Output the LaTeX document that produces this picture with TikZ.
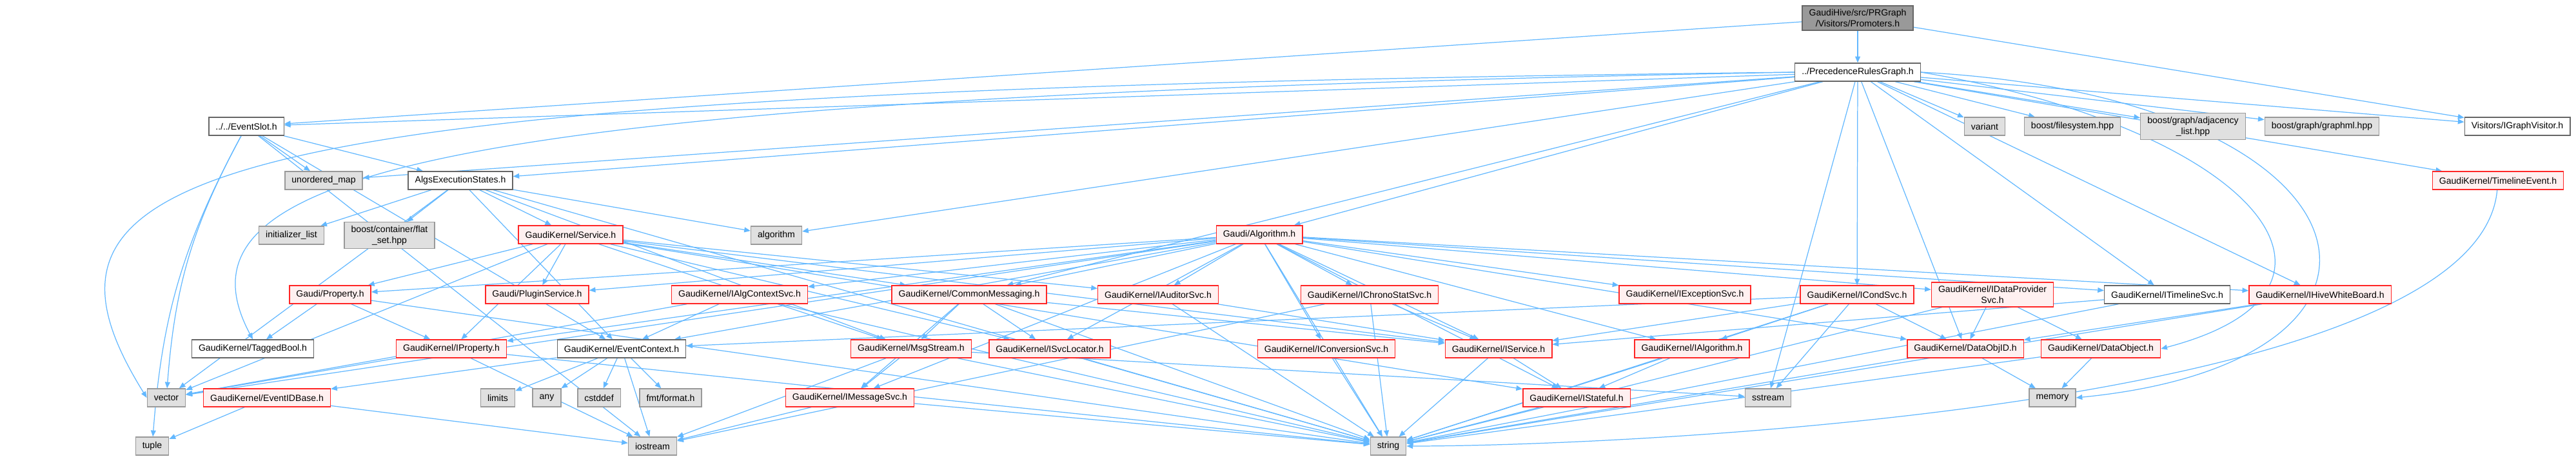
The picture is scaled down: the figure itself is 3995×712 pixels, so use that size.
\documentclass[tikz,border=0pt]{standalone}
\usepackage{fontspec}
\setmainfont{Liberation Sans}
\usetikzlibrary{arrows.meta,backgrounds}
\definecolor{edgeblue}{HTML}{63B8FF}
\definecolor{redfill}{HTML}{FFF0F0}
\definecolor{sysfill}{HTML}{E0E0E0}
\definecolor{grey40}{HTML}{666666}
\definecolor{grey60}{HTML}{999999}
\tikzset{
  hdr/.style={draw, rectangle, line width=0.8pt, inner xsep=6pt, inner ysep=3pt,
    minimum height=0.56cm, align=center, font=\fontsize{8}{9.6}\selectfont},
  hdrcur/.style={hdr, fill=grey60, draw=grey40},
  hdrdoc/.style={hdr, fill=white, draw=grey40},
  hdrred/.style={hdr, fill=redfill, draw=red!85},
  hdrsys/.style={hdr, fill=sysfill, draw=grey60},
  dep/.style={draw=edgeblue, line width=0.7pt, -{Triangle[length=5.5pt,width=4.5pt]}},
}
\begin{document}
\begin{tikzpicture}[x=0.02cm,y=-0.02cm]
\useasboundingbox (0,0) rectangle (3995,712);

\node[hdrcur] (prom) at (2881,28) {GaudiHive/src/PRGraph\\/Visitors/Promoters.h};
\node[hdrdoc] (prg) at (2881,112) {../PrecedenceRulesGraph.h};

\node[hdrdoc] (evslot) at (382,196) {../../EventSlot.h};
\node[hdrsys] (variant) at (3078,196) {variant};
\node[hdrsys] (bfs) at (3214,196) {boost/filesystem.hpp};
\node[hdrsys] (badj) at (3401,196) {boost/graph/adjacency\\\_list.hpp};
\node[hdrsys] (bgml) at (3601,196) {boost/graph/graphml.hpp};
\node[hdrdoc] (igv) at (3904,196) {Visitors/IGraphVisitor.h};

\node[hdrsys] (umap) at (502,280) {unordered\_map};
\node[hdrdoc] (aes) at (714,280) {AlgsExecutionStates.h};
\node[hdrred] (tlev) at (3874,280) {GaudiKernel/TimelineEvent.h};

\node[hdrsys] (initl) at (452,365) {initializer\_list};
\node[hdrsys] (flatset) at (604,365) {boost/container/flat\\\_set.hpp};
\node[hdrred] (service) at (885,364) {GaudiKernel/Service.h};
\node[hdrsys] (algo) at (1204,365) {algorithm};
\node[hdrred] (galg) at (1953,364) {Gaudi/Algorithm.h};

\node[hdrred] (prop) at (512,457) {Gaudi/Property.h};
\node[hdrred] (plugin) at (833,457) {Gaudi/PluginService.h};
\node[hdrred] (iacs) at (1147,457) {GaudiKernel/IAlgContextSvc.h};
\node[hdrred] (cmsg) at (1503,457) {GaudiKernel/CommonMessaging.h};
\node[hdrred] (iaud) at (1796,457) {GaudiKernel/IAuditorSvc.h};
\node[hdrred] (ichrono) at (2124,457) {GaudiKernel/IChronoStatSvc.h};
\node[hdrred] (iexc) at (2613,457) {GaudiKernel/IExceptionSvc.h};
\node[hdrred] (icond) at (2880,457) {GaudiKernel/ICondSvc.h};
\node[hdrred] (idps) at (3090,457) {GaudiKernel/IDataProvider\\Svc.h};
\node[hdrdoc] (itls) at (3361,457) {GaudiKernel/ITimelineSvc.h};
\node[hdrred] (ihwb) at (3598,457) {GaudiKernel/IHiveWhiteBoard.h};

\node[hdrdoc] (tagged) at (392,541) {GaudiKernel/TaggedBool.h};
\node[hdrred] (iprop) at (700,541) {GaudiKernel/IProperty.h};
\node[hdrdoc] (evctx) at (964,541) {GaudiKernel/EventContext.h};
\node[hdrred] (msgs) at (1413,541) {GaudiKernel/MsgStream.h};
\node[hdrred] (isvcl) at (1628,541) {GaudiKernel/ISvcLocator.h};
\node[hdrred] (iconv) at (2057,541) {GaudiKernel/IConversionSvc.h};
\node[hdrred] (iserv) at (2324,541) {GaudiKernel/IService.h};
\node[hdrred] (ialg) at (2624,541) {GaudiKernel/IAlgorithm.h};
\node[hdrred] (doid) at (3048,541) {GaudiKernel/DataObjID.h};
\node[hdrred] (dobj) at (3258,541) {GaudiKernel/DataObject.h};

\node[hdrsys] (vector) at (258,617) {vector};
\node[hdrred] (evid) at (414,617) {GaudiKernel/EventIDBase.h};
\node[hdrsys] (limits) at (772,617) {limits};
\node[hdrsys] (any) at (848,617) {any};
\node[hdrsys] (cstddef) at (929,617) {cstddef};
\node[hdrsys] (fmt) at (1040,617) {fmt/format.h};
\node[hdrred] (imsg) at (1318,617) {GaudiKernel/IMessageSvc.h};
\node[hdrred] (istate) at (2445,617) {GaudiKernel/IStateful.h};
\node[hdrsys] (sstream) at (2742,617) {sstream};
\node[hdrsys] (memory) at (3183,617) {memory};

\node[hdrsys] (tuple) at (236,692) {tuple};
\node[hdrsys] (iostream) at (1012,692) {iostream};
\node[hdrsys] (string) at (2153,692) {string};

\begin{scope}[on background layer]
\draw[dep] (prom) -- (prg);
\draw[dep] (prom) -- (evslot);
\draw[dep] (prom) -- (igv);

\draw[dep] (prg) -- (evslot);
\draw[dep] (prg) -- (aes);
\draw[dep] (prg) -- (umap);
\draw[dep] (prg) -- (algo);
\draw[dep] (prg) -- (galg);
\draw[dep] (prg) -- (cmsg);
\draw[dep] (prg) -- (igv);
\draw[dep] (prg) -- (variant);
\draw[dep] (prg) -- (bfs);
\draw[dep] (prg) -- (badj);
\draw[dep] (prg) -- (bgml);
\draw[dep] (prg) -- (tlev);
\draw[dep] (prg) -- (icond);
\draw[dep] (prg) -- (sstream);
\draw[dep] (prg) -- (doid);
\draw[dep] (prg) -- (itls);
\draw[dep] (prg) -- (ihwb);
\draw[dep] (prg.west) .. controls (300,140) and (0,250) .. (vector.west);
\draw[dep] (prg.west) .. controls (700,150) and (250,260) .. (tagged.north);
\draw[dep] (prg.east) .. controls (3500,200) and (3700,450) .. (dobj.east);
\draw[dep] (prg.east) .. controls (3700,150) and (3800,560) .. (memory.east);

\draw[dep] (evslot) -- (aes);
\draw[dep] (evslot) -- (umap);
\draw[dep] (evslot) to[bend right=12] (vector);
\draw[dep] (evslot) to[bend right=12] (tuple);
\draw[dep] (evslot) -- (evctx);
\draw[dep] (evslot) -- (iostream);

\draw[dep] (aes) -- (initl);
\draw[dep] (aes) -- (flatset);
\draw[dep] (aes) -- (service);
\draw[dep] (aes) -- (algo);
\draw[dep] (aes) -- (vector);
\draw[dep] (aes) -- (msgs);
\draw[dep] (aes) -- (evctx);
\draw[dep] (aes) -- (string);

\draw[dep] (service) -- (prop);
\draw[dep] (service) -- (plugin);
\draw[dep] (service) -- (vector);
\draw[dep] (service) -- (iprop);
\draw[dep] (service) -- (cmsg);
\draw[dep] (service) -- (iaud);
\draw[dep] (service) -- (iserv);
\draw[dep] (service) -- (isvcl);
\draw[dep] (service) -- (istate);
\draw[dep] (service) -- (msgs);

\draw[dep] (tlev) to[out=-95,in=0,looseness=0.5] (string);

\draw[dep] (galg) -- (prop);
\draw[dep] (galg) -- (plugin);
\draw[dep] (galg) -- (iacs);
\draw[dep] (galg) -- (cmsg);
\draw[dep] (galg) -- (iaud);
\draw[dep] (galg) -- (ichrono);
\draw[dep] (galg) -- (iexc);
\draw[dep] (galg) -- (idps);
\draw[dep] (galg) -- (itls);
\draw[dep] (galg) -- (ihwb);
\draw[dep] (galg) -- (iprop);
\draw[dep] (galg) -- (evctx);
\draw[dep] (galg) -- (isvcl);
\draw[dep] (galg) -- (imsg);
\draw[dep] (galg) -- (iconv);
\draw[dep] (galg) -- (iserv);
\draw[dep] (galg) -- (ialg);
\draw[dep] (galg) -- (istate);
\draw[dep] (galg) -- (doid);
\draw[dep] (galg) -- (string);
\draw[dep] (galg) -- (vector);

\draw[dep] (prop) -- (tagged);
\draw[dep] (prop) -- (iprop);
\draw[dep] (prop) -- (string);

\draw[dep] (iacs) -- (vector);
\draw[dep] (iacs) -- (evctx);
\draw[dep] (iacs) -- (string);

\draw[dep] (cmsg) -- (msgs);
\draw[dep] (cmsg) -- (isvcl);
\draw[dep] (cmsg) -- (imsg);
\draw[dep] (cmsg) -- (iserv);
\draw[dep] (cmsg) -- (string);

\draw[dep] (iaud) -- (iserv);
\draw[dep] (iaud) -- (string);

\draw[dep] (ichrono) -- (iserv);
\draw[dep] (ichrono) -- (string);
\draw[dep] (ichrono) -- (iostream);

\draw[dep] (icond) -- (iserv);
\draw[dep] (icond) -- (ialg);
\draw[dep] (icond) -- (sstream);
\draw[dep] (icond) -- (string);
\draw[dep] (icond) -- (doid);
\draw[dep] (icond) -- (evctx);

\draw[dep] (idps) -- (doid);
\draw[dep] (idps) -- (dobj);
\draw[dep] (idps) -- (string);

\draw[dep] (itls) -- (iserv);
\draw[dep] (itls) -- (string);

\draw[dep] (ihwb) -- (doid);
\draw[dep] (ihwb) -- (string);

\draw[dep] (iprop) -- (vector);
\draw[dep] (iprop) -- (iostream);
\draw[dep] (iprop) -- (string);

\draw[dep] (evctx) -- (evid);
\draw[dep] (evctx) -- (limits);
\draw[dep] (evctx) -- (any);
\draw[dep] (evctx) -- (cstddef);
\draw[dep] (evctx) -- (fmt);
\draw[dep] (evctx) -- (iostream);

\draw[dep] (msgs) -- (imsg);
\draw[dep] (msgs) -- (sstream);
\draw[dep] (msgs) -- (string);
\draw[dep] (msgs) -- (iostream);

\draw[dep] (isvcl) -- (string);
\draw[dep] (iconv) -- (string);

\draw[dep] (iserv) -- (istate);
\draw[dep] (iserv) -- (string);
\draw[dep] (ialg) -- (istate);
\draw[dep] (ialg) -- (string);

\draw[dep] (doid) -- (memory);
\draw[dep] (doid) -- (string);
\draw[dep] (dobj) -- (memory);
\draw[dep] (dobj) -- (string);

\draw[dep] (evid) -- (tuple);
\draw[dep] (evid) -- (iostream);
\draw[dep] (imsg) -- (iostream);
\draw[dep] (imsg) -- (string);
\draw[dep] (istate) -- (string);
\end{scope}
\end{tikzpicture}
\end{document}
